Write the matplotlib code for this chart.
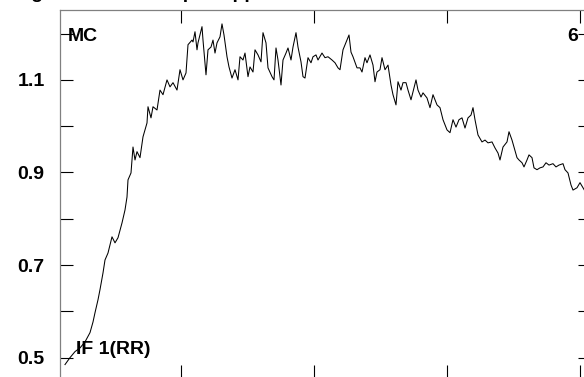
import matplotlib
matplotlib.use("Agg")
import matplotlib.pyplot as plt
import numpy as np

plt.rcParams["font.family"] = ["Liberation Sans", "DejaVu Sans"]

# sample position (arbitrary step units) and signal value
steps = [
    5, 10, 15, 20, 25, 30, 33, 35, 38, 40, 43, 45, 48, 52, 55, 58, 62, 65, 67, 68,
    71, 73, 75, 77, 80, 83, 87, 88, 91, 93, 97, 100, 103, 107, 110, 113, 117, 120, 123, 126,
    128, 132,
    133, 135, 137, 138, 142, 143, 146, 148, 151, 153, 155, 157, 160, 162, 164, 167, 169, 172, 175, 178,
    180, 183, 185, 188, 190, 193, 195, 198, 201, 203, 206, 208, 212, 214, 216, 218, 221, 223, 226, 228,
    231, 233, 236, 238, 241, 243, 245, 248, 251, 253, 256, 258, 262, 265, 268, 272,
    275, 278, 280, 283, 287, 289, 291, 293, 297, 300, 302, 305, 307, 310, 313, 315, 317, 320, 322, 325,
    328, 331, 333, 336, 338, 341, 343, 346, 348, 351, 353, 356, 358, 361, 363, 367, 370, 373, 377, 380,
    383, 387, 390, 393, 396, 399, 402, 405, 408, 411, 413, 415, 417,
    418, 422, 425, 428, 432, 435, 438, 440, 443, 447, 449, 452, 454, 457, 459, 462, 464, 467, 469, 472,
    474, 477, 480, 483, 486, 489, 493, 496, 499, 503, 505, 508, 511, 513, 517, 520, 523, 526,
]
signal = [
    0.485, 0.500, 0.513, 0.521, 0.534, 0.554, 0.577, 0.597, 0.625, 0.647, 0.683, 0.711, 0.726, 0.761,
    0.748, 0.759, 0.791, 0.819, 0.847, 0.884, 0.899, 0.955, 0.927, 0.945, 0.932, 0.977, 1.007, 1.042,
    1.018, 1.042, 1.035, 1.078, 1.068, 1.100, 1.085, 1.094, 1.078, 1.122, 1.100, 1.115, 1.176, 1.186,
    1.182, 1.204, 1.165, 1.180, 1.215, 1.186, 1.111, 1.165, 1.171, 1.186, 1.158, 1.180, 1.193, 1.221,
    1.197, 1.150, 1.128, 1.104, 1.122, 1.100, 1.150, 1.143, 1.158, 1.107, 1.128, 1.117, 1.165, 1.154,
    1.139, 1.202, 1.180, 1.126, 1.107, 1.100, 1.169, 1.143, 1.089, 1.143, 1.158, 1.169, 1.143, 1.171,
    1.202, 1.171, 1.139, 1.107, 1.104, 1.148, 1.137, 1.150, 1.154, 1.143, 1.158, 1.148, 1.150, 1.143,
    1.137, 1.126, 1.122, 1.165, 1.186, 1.197, 1.160, 1.150, 1.126, 1.126, 1.117, 1.148, 1.137, 1.154,
    1.132, 1.096, 1.117, 1.122, 1.148, 1.122, 1.132, 1.089, 1.068, 1.046, 1.096, 1.078, 1.094, 1.094,
    1.078, 1.057, 1.074, 1.100, 1.078, 1.063, 1.072, 1.061, 1.040, 1.068, 1.046, 1.040, 1.014, 0.992,
    0.986, 1.014, 0.998, 1.014, 1.018, 0.996, 1.018, 1.024, 1.040, 1.014, 0.992,
    0.981, 0.966, 0.970, 0.964, 0.966, 0.953, 0.942, 0.927, 0.955, 0.966, 0.988, 0.970, 0.955, 0.932,
    0.927, 0.921, 0.912, 0.927, 0.938, 0.932, 0.910, 0.906, 0.910, 0.912, 0.921, 0.916, 0.919, 0.912,
    0.916, 0.919, 0.906, 0.899, 0.873, 0.862, 0.867, 0.878, 0.867, 0.856,
]
ytick_major = [0.5, 0.7, 0.9, 1.1]
ytick_minor = [0.6, 0.8, 1.0, 1.2]
xtick_pos = [121, 254, 387, 520]

fig = plt.figure(figsize=(5.84, 3.77), dpi=100)
ax = fig.add_axes([60 / 584, -1 / 377, 531 / 584, 368 / 377])

ax.plot(steps, signal, color="black", lw=0.75)

ax.set_xlim(0, 531)
ax.set_ylim(0.456, 1.251)
ax.set_xticks(xtick_pos)
ax.set_xticklabels([])
ax.set_yticks(ytick_major)
ax.set_yticklabels([f"{v:.1f}" for v in ytick_major], fontsize=14, fontweight="bold")
ax.set_yticks(ytick_minor, minor=True)

ax.tick_params(which="both", direction="in", length=9.4, width=0.8, color="black",
               top=True, right=True, bottom=True, left=True)
ax.tick_params(axis="y", pad=11)
for sp in ax.spines.values():
    sp.set_color("#808080")
    sp.set_linewidth(0.9)

ax.text(8 / 531, 0.952, "MC", transform=ax.transAxes, fontsize=14, fontweight="bold",
        ha="left", va="top")
ax.text(518 / 531, 0.952, "6", transform=ax.transAxes, fontsize=14, fontweight="bold",
        ha="right", va="top")
ax.text(16 / 531, 0.055, "IF 1(RR)", transform=ax.transAxes, fontsize=14, fontweight="bold",
        ha="left", va="bottom")

# panel title, cut off by the top edge as in the source figure
fig.text(290 / 584, 1 + 2 / 377, "Original signal with time lapse applied", fontsize=14,
         fontweight="bold", ha="right", va="baseline")

fig.savefig("out.png", dpi=100)
plt.close(fig)
